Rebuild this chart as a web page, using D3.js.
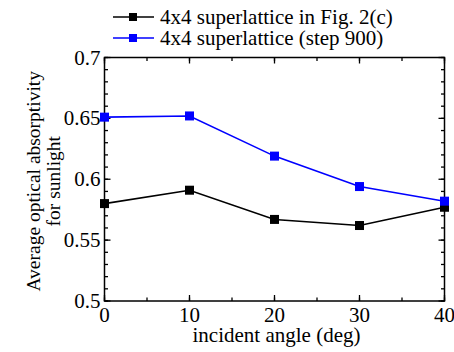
<!DOCTYPE html>
<html lang="en">
<head>
    <meta charset="UTF-8">
    <script src="https://cdn.jsdelivr.net/npm/d3@7"></script>
    <style>
        body { margin: 0; background: #fff; }
        svg text { font-family: "Liberation Serif", "Times New Roman", "DejaVu Serif", serif; }
    </style>
    <title>absorptivity</title>
</head>
<body>
    <svg width="454" height="352"></svg>
    <script>
        var angles = [0, 10, 20, 30, 40];
        var fig2c = [0.580, 0.591, 0.567, 0.562, 0.577];
        var step900 = [0.651, 0.652, 0.619, 0.594, 0.582];
        var seriesNames = ["4x4 superlattice in Fig. 2(c)", "4x4 superlattice (step 900)"];
        var seriesColors = ["#000000", "#0000ff"];
        var xTicks = [0, 10, 20, 30, 40];
        var yTicks = [0.5, 0.55, 0.6, 0.65, 0.7];

        var svg = d3.select("svg");
        // plot box edges (note: "top" is reserved on window, so use pl/pr/pt/pb)
        var pl = 104.5, pr = 444.5, pt = 57.5, pb = 301;

        var x = d3.scaleLinear().domain([0, 40]).range([pl, pr]);
        var y = d3.scaleLinear().domain([0.5, 0.7]).range([pb, pt]);

        // minor + major ticks, inward on all four sides
        var g = svg.append("g");
        var xMinor = d3.range(0, 40.01, 5), yMinor = d3.range(0.5, 0.7001, 0.01);
        function tickSet(vals, len, isX) {
            vals.forEach(function (v) {
                if (isX) {
                    g.append("line").attr("x1", x(v)).attr("x2", x(v)).attr("y1", pb).attr("y2", pb - len);
                    g.append("line").attr("x1", x(v)).attr("x2", x(v)).attr("y1", pt).attr("y2", pt + len);
                } else {
                    g.append("line").attr("y1", y(v)).attr("y2", y(v)).attr("x1", pl).attr("x2", pl + len);
                    g.append("line").attr("y1", y(v)).attr("y2", y(v)).attr("x1", pr).attr("x2", pr - len);
                }
            });
        }
        tickSet(xMinor, 3.5, true);
        tickSet(xTicks, 6, true);
        tickSet(yMinor, 3.5, false);
        tickSet(yTicks, 6, false);
        g.selectAll("line").attr("stroke", "#000").attr("stroke-width", 1.3);

        svg.append("rect")
            .attr("x", pl).attr("y", pt)
            .attr("width", pr - pl).attr("height", pb - pt)
            .attr("fill", "none").attr("stroke", "#000").attr("stroke-width", 1.5);

        svg.selectAll(".xl").data(xTicks).enter().append("text")
            .attr("x", function (d) { return x(d); })
            .attr("y", pb + 21)
            .attr("text-anchor", "middle").attr("font-size", "21px")
            .text(function (d) { return d; });

        svg.selectAll(".yl").data(yTicks).enter().append("text")
            .attr("x", pl - 4)
            .attr("y", function (d) { return y(d) + 7; })
            .attr("text-anchor", "end").attr("font-size", "21px")
            .text(function (d) { return d; });

        svg.append("text")
            .attr("x", (pl + pr) / 2 + 2).attr("y", 342)
            .attr("text-anchor", "middle").attr("font-size", "21px")
            .text("incident angle (deg)");

        var yt = svg.append("text")
            .attr("transform", "translate(40," + ((pt + pb) / 2 + 2) + ") rotate(-90)")
            .attr("text-anchor", "middle").attr("font-size", "19.5px");
        yt.append("tspan").attr("x", 0).attr("dy", 0).text("Average optical absorptivity");
        yt.append("tspan").attr("x", 0).attr("dy", 20).text("for sunlight");

        var line = d3.line()
            .x(function (d, i) { return x(angles[i]); })
            .y(function (d) { return y(d); });

        [fig2c, step900].forEach(function (vals, k) {
            svg.append("path")
                .attr("d", line(vals))
                .attr("fill", "none")
                .attr("stroke", seriesColors[k]).attr("stroke-width", 1.6);
            svg.selectAll(".m" + k).data(vals).enter().append("rect")
                .attr("x", function (d, i) { return x(angles[i]) - 4.5; })
                .attr("y", function (d) { return y(d) - 4.5; })
                .attr("width", 9).attr("height", 9)
                .attr("fill", seriesColors[k]);
        });

        // legend
        seriesNames.forEach(function (name, k) {
            var ly = 17 + k * 21;
            svg.append("line")
                .attr("x1", 113).attr("x2", 154).attr("y1", ly).attr("y2", ly)
                .attr("stroke", seriesColors[k]).attr("stroke-width", 1.6);
            svg.append("rect")
                .attr("x", 129).attr("y", ly - 4).attr("width", 8).attr("height", 8)
                .attr("fill", seriesColors[k]);
            svg.append("text")
                .attr("x", 160).attr("y", ly + 7)
                .attr("font-size", "21px")
                .text(name);
        });
    </script>
</body>
</html>
